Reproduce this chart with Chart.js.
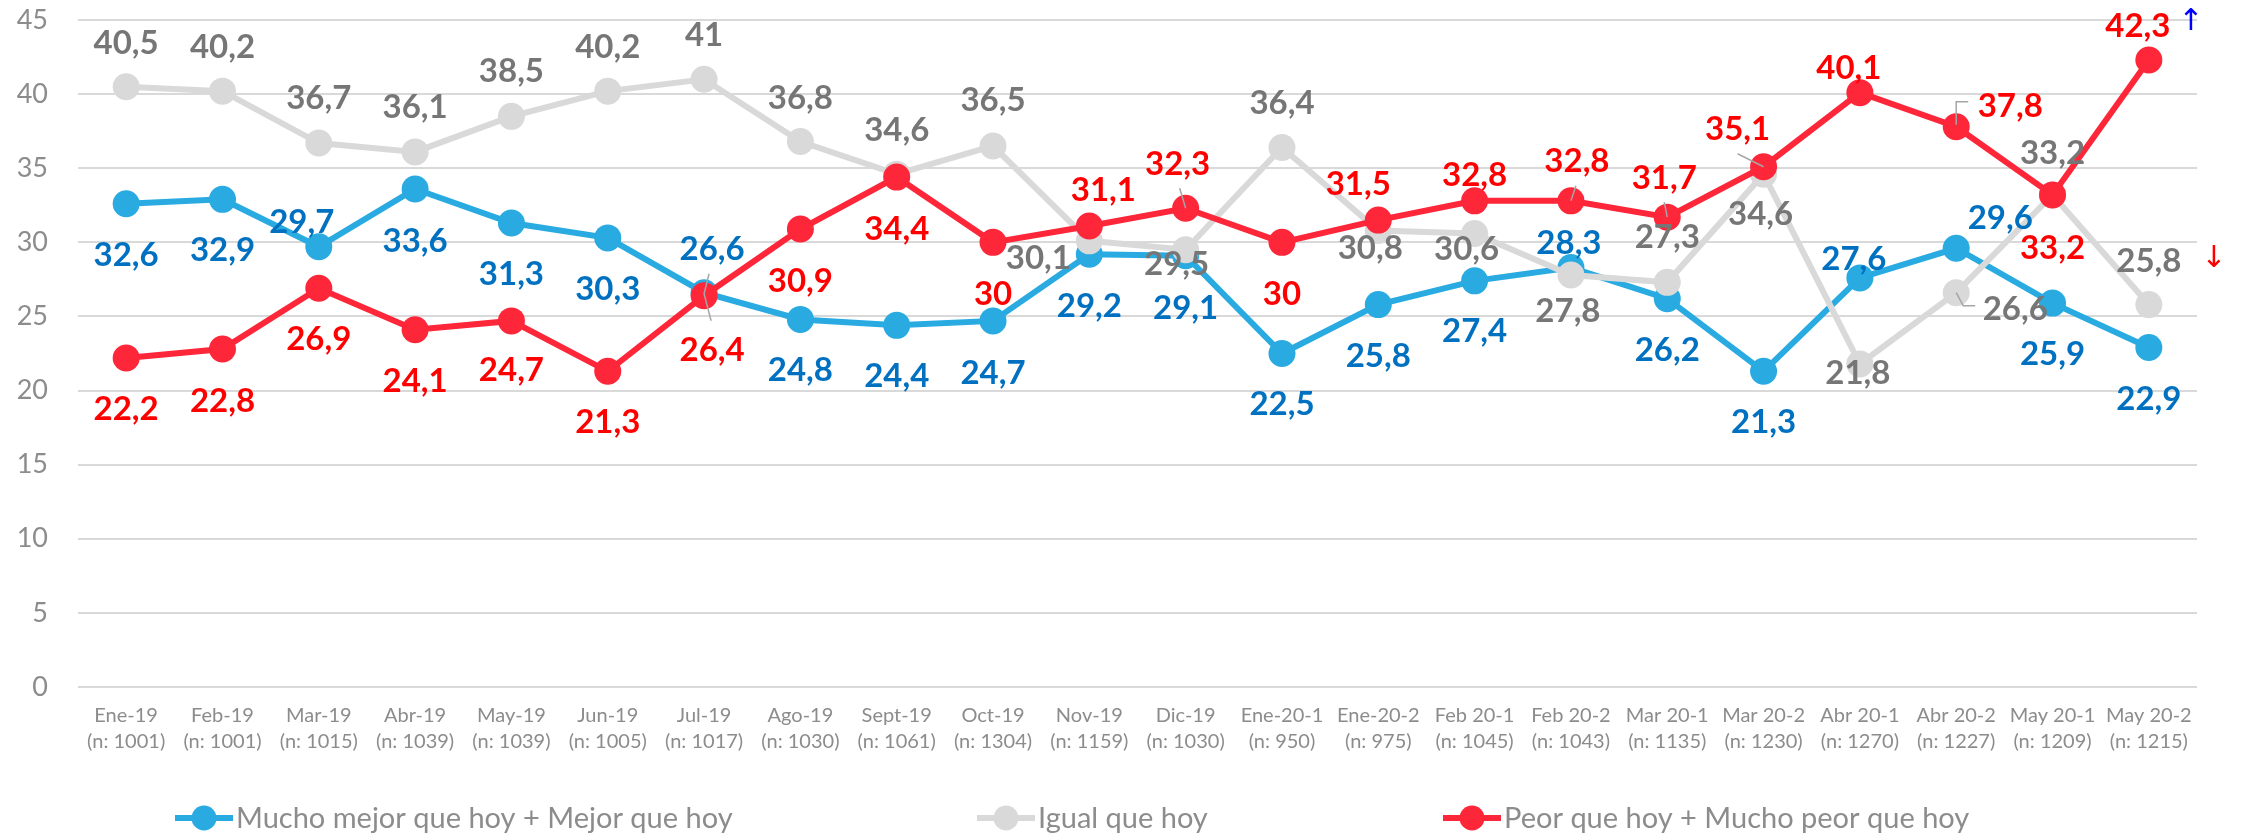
<!DOCTYPE html>
<html>
<head>
<meta charset="utf-8">
<script src="https://cdn.jsdelivr.net/npm/chart.js@4.4.1/dist/chart.umd.min.js"></script>
<style>
  html, body { margin: 0; padding: 0; background: #ffffff; }
  #wrap { width: 2242px; height: 837px; position: relative; }
</style>
</head>
<body>
<div id="wrap"><canvas id="c" width="2242" height="837"></canvas></div>
<script>
// ---------- DATA ----------
const categories = ['Ene-19','Feb-19','Mar-19','Abr-19','May-19','Jun-19','Jul-19','Ago-19','Sept-19','Oct-19','Nov-19','Dic-19',
  'Ene-20-1','Ene-20-2','Feb 20-1','Feb 20-2','Mar 20-1','Mar 20-2','Abr 20-1','Abr 20-2','May 20-1','May 20-2'];
const sampleSizes = ['(n: 1001)','(n: 1001)','(n: 1015)','(n: 1039)','(n: 1039)','(n: 1005)','(n: 1017)','(n: 1030)','(n: 1061)','(n: 1304)','(n: 1159)','(n: 1030)',
  '(n: 950)','(n: 975)','(n: 1045)','(n: 1043)','(n: 1135)','(n: 1230)','(n: 1270)','(n: 1227)','(n: 1209)','(n: 1215)'];
const yTicks = [0, 5, 10, 15, 20, 25, 30, 35, 40, 45];
const seriesNames = ['Mucho mejor que hoy + Mejor que hoy', 'Igual que hoy', 'Peor que hoy + Mucho peor que hoy'];
const mejorValues = [32.6, 32.9, 29.7, 33.6, 31.3, 30.3, 26.6, 24.8, 24.4, 24.7, 29.2, 29.1, 22.5, 25.8, 27.4, 28.3, 26.2, 21.3, 27.6, 29.6, 25.9, 22.9];
const igualValues = [40.5, 40.2, 36.7, 36.1, 38.5, 40.2, 41, 36.8, 34.6, 36.5, 30.1, 29.5, 36.4, 30.8, 30.6, 27.8, 27.3, 34.6, 21.8, 26.6, 33.2, 25.8];
const peorValues  = [22.2, 22.8, 26.9, 24.1, 24.7, 21.3, 26.4, 30.9, 34.4, 30, 31.1, 32.3, 30, 31.5, 32.8, 32.8, 31.7, 35.1, 40.1, 37.8, 33.2, 42.3];

// ---------- STYLE ----------
const lineColors  = ['#29abe2', '#d9d9d9', '#fe2639'];
const labelColors = ['#0070c0', '#767676', '#ff0000'];
const FONT = 'Lato, "Open Sans", "DejaVu Sans", sans-serif';

// label offsets (pixels, label centre relative to its point)
const mejorLabelOffsets = [[0,50],[0,50],[-17,-26],[0,51],[0,50],[0,50],[8,-45],[0,50],[0,50],[0,51],[0,51],[0,51],
  [0,49],[0,50],[0,49],[-2,-26],[0,50],[0,50],[-6,-20],[44,-31],[0,50],[0,50]];
const igualLabelOffsets = [[0,-45],[0,-45],[0,-46],[0,-46],[0,-46],[0,-45],[0,-45],[0,-45],[0,-45],[0,-47],[-51,16],[-9,13],
  [0,-45],[-8,17],[-8,15],[-3,35],[0,-46],[-3,39],[-2,8],[59,15],[0,-43],[0,-45]];
const peorLabelOffsets  = [[0,50],[0,51],[0,50],[0,50],[0,48],[0,50],[8,53],[0,51],[0,51],[0,51],[14,-37],[-8,-45],
  [0,51],[-20,-37],[0,-27],[6,-41],[-3,-40],[-26,-39],[-11,-26],[54,-22],[0,52],[-11,-35]];
const labelOffsets = [mejorLabelOffsets, igualLabelOffsets, peorLabelOffsets];

// leader lines: [dataset, pointIndex, polyline relative to point]
const leaders = [
  [2, 6, [[5,-22],[0,-2],[7,25]]],
  [2, 11, [[-6,-20],[0,0]]],
  [2, 15, [[5,-15],[0,0]]],
  [2, 16, [[-3,-15],[0,0]]],
  [2, 17, [[-26,-13],[0,0]]],
  [2, 19, [[0,-2],[0,-25],[12,-25]]],
  [1, 19, [[0,0],[7,13],[19,13]]]
];

function fmt(v) { return String(v).replace('.', ','); }

const valueLabelPlugin = {
  id: 'valueLabels',
  afterDatasetsDraw(chart) {
    const ctx = chart.ctx;
    ctx.save();
    ctx.strokeStyle = '#a6a6a6';
    ctx.lineWidth = 1.5;
    leaders.forEach(([ds, i, pts]) => {
      const p = chart.getDatasetMeta(ds).data[i];
      ctx.beginPath();
      pts.forEach(([dx, dy], k) => { if (k) ctx.lineTo(p.x + dx, p.y + dy); else ctx.moveTo(p.x + dx, p.y + dy); });
      ctx.stroke();
    });
    ctx.font = 'bold 33px ' + FONT;
    ctx.textAlign = 'center';
    ctx.textBaseline = 'alphabetic';
    chart.data.datasets.forEach((d, ds) => {
      const meta = chart.getDatasetMeta(ds);
      ctx.fillStyle = labelColors[ds];
      meta.data.forEach((p, i) => {
        const [dx, dy] = labelOffsets[ds][i];
        ctx.fillText(fmt(d.data[i]), p.x + dx, p.y + dy + 12);
      });
    });
    // change arrows at the right
    const last = chart.getDatasetMeta(2).data[categories.length - 1];
    const lastG = chart.getDatasetMeta(1).data[categories.length - 1];
    ctx.font = '30px "DejaVu Sans", sans-serif';
    ctx.textBaseline = 'middle';
    ctx.fillStyle = '#0000ff';
    ctx.fillText('\u2191', last.x + 42, last.y - 38);
    ctx.fillStyle = '#ff0000';
    ctx.fillText('\u2193', lastG.x + 65, lastG.y - 45);
    ctx.restore();
  }
};

const legendPlugin = {
  id: 'customLegend',
  afterDraw(chart) {
    const ctx = chart.ctx;
    const y = 818;
    const markerX = [204, 1006, 1472];
    ctx.save();
    ctx.font = '29px ' + FONT;
    ctx.textBaseline = 'middle';
    ctx.textAlign = 'left';
    seriesNames.forEach((name, k) => {
      const mx = markerX[k];
      ctx.strokeStyle = lineColors[k];
      ctx.lineWidth = 6;
      ctx.beginPath(); ctx.moveTo(mx - 29, y); ctx.lineTo(mx + 29, y); ctx.stroke();
      ctx.fillStyle = lineColors[k];
      ctx.beginPath(); ctx.arc(mx, y, 12.5, 0, Math.PI * 2); ctx.fill();
      ctx.fillStyle = '#8c8c8c';
      ctx.fillText(name, mx + 32, y + 1);
    });
    ctx.restore();
  }
};

function ds(label, data, k, order) {
  return {
    label, data, order,
    borderColor: lineColors[k],
    backgroundColor: lineColors[k],
    borderWidth: 6,
    pointRadius: 13.5,
    pointHoverRadius: 13.5,
    pointBorderWidth: 0,
    pointBackgroundColor: lineColors[k],
    tension: 0,
    fill: false
  };
}

new Chart(document.getElementById('c'), {
  type: 'line',
  data: {
    labels: categories.map((c, i) => [c, sampleSizes[i]]),
    datasets: [
      ds(seriesNames[0], mejorValues, 0, 3),
      ds(seriesNames[1], igualValues, 1, 2),
      ds(seriesNames[2], peorValues, 2, 1)
    ]
  },
  options: {
    responsive: false,
    animation: false,
    devicePixelRatio: 1,
    layout: { padding: { top: 20, right: 45, bottom: 0, left: 0 } },
    plugins: { legend: { display: false }, tooltip: { enabled: false } },
    scales: {
      x: {
        offset: true,
        grid: { display: false, drawTicks: false },
        border: { display: false },
        ticks: { color: '#8c8c8c', font: { family: FONT, size: 20, lineHeight: 1.3 }, padding: 16, maxRotation: 0, autoSkip: false },
        afterFit(s) { s.height = 150; s.paddingLeft = 0; s.paddingRight = 0; }
      },
      y: {
        min: 0, max: 45,
        afterBuildTicks(s) { s.ticks = yTicks.map(v => ({ value: v })); },
        grid: { color: '#d9d9d9', lineWidth: 2, drawTicks: false },
        border: { display: false },
        ticks: { color: '#8c8c8c', font: { family: FONT, size: 27 }, padding: 30, callback: v => String(v) },
        afterFit(s) { s.width = 78; s.paddingTop = 0; s.paddingBottom = 0; }
      }
    }
  },
  plugins: [valueLabelPlugin, legendPlugin]
});
</script>
</body>
</html>
